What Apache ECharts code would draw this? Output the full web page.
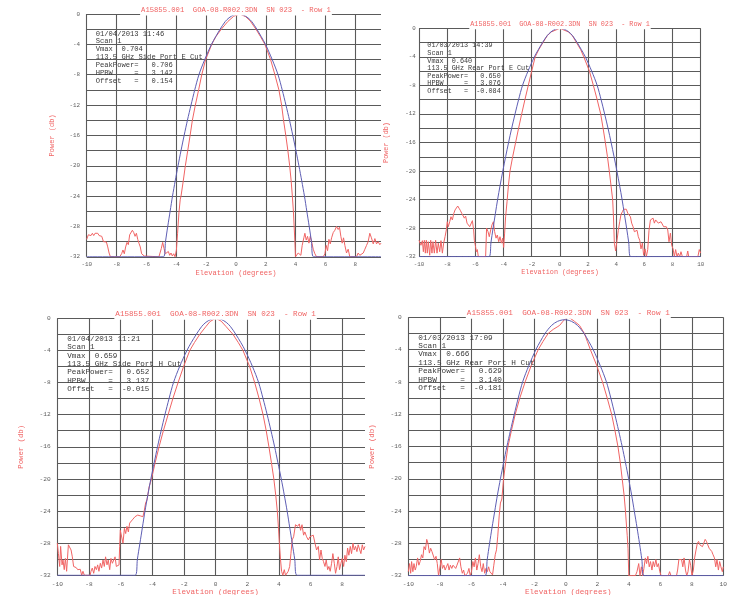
<!DOCTYPE html>
<html>
<head>
<meta charset="utf-8">
<script src="https://cdn.jsdelivr.net/npm/echarts@6/dist/echarts.min.js"></script>
<style>html,body{margin:0;padding:0;background:#fff;}#c{width:730px;height:595px;}</style>
</head>
<body>
<div id="c"></div>
<script>
// ---------- data ----------
const titleText = 'A15855.001  GOA-08-R002.3DN  SN 023  - Row 1';
const xName = 'Elevation (degrees)';
const yName = 'Power (db)';

const p1Info = ['01/04/2013 11:46','Scan 1','Vmax  0.704','113.5 GHz Side Port E Cut','PeakPower=   0.706','HPBW     =   3.142','Offset   =   0.154'];
const p2Info = ['01/03/2013 14:39','Scan 1','Vmax  0.640','113.5 GHz Rear Port E Cut','PeakPower=   0.650','HPBW     =   3.076','Offset   =  -0.084'];
const p3Info = ['01/04/2013 11:21','Scan 1','Vmax  0.659','113.5 GHz Side Port H Cut','PeakPower=   0.652','HPBW     =   3.137','Offset   =  -0.015'];
const p4Info = ['01/03/2013 17:09','Scan 1','Vmax  0.666','113.5 GHz Rear Port H Cut','PeakPower=   0.629','HPBW     =   3.140','Offset   =  -0.181'];

const p1Red = [[-10,-29.7],[-9.89,-29.1],[-9.8,-28.9],[-9.71,-29.2],[-9.62,-28.9],[-9.53,-29.2],[-9.44,-28.9],[-9.35,-29.1],[-9.26,-28.9],[-9.17,-29.2],[-9.08,-29.0],[-8.99,-29.3],[-8.88,-30.0],[-8.77,-30.1],[-8.68,-30.05],[-8.59,-30.7],[-8.5,-31.5],[-8.41,-32],
[-7.79,-32],[-7.75,-31.9],[-7.66,-31.6],[-7.57,-31.1],[-7.48,-31.6],[-7.39,-30.7],[-7.3,-30.1],[-7.21,-30.4],[-7.12,-29.1],[-7.03,-28.9],[-6.94,-28.5],[-6.85,-28.8],[-6.76,-29.3],[-6.67,-28.9],[-6.58,-29.7],[-6.5,-30.2],[-6.41,-30.7],[-6.32,-31.6],[-6.23,-31.5],[-6.14,-31.9],[-6.05,-32],[-5.16,-32],
[-5.09,-31.8],[-5.0,-30.9],[-4.91,-30.1],[-4.82,-30.9],[-4.73,-31.6],[-4.64,-31.8],[-4.53,-31.3],[-4.44,-31.8],[-4.35,-31.5],[-4.26,-31.9],[-4.17,-31.6],[-4.08,-32],[-3.99,-31.1],[-3.91,-28.9],[-3.82,-26.2],[-3.73,-24.4],
[-3.68,-24],[-3.53,-22],[-3.39,-20],[-3.23,-18],[-3.07,-16],[-2.92,-14],[-2.72,-12],[-2.5,-10],[-2.29,-8],[-2.03,-6],[-1.62,-4],[-1.35,-3],[-0.98,-2],[-0.55,-1],[-0.15,-0.3],[0.25,0],[0.65,-0.35],[0.95,-0.9],[1.34,-2],[1.65,-3],[1.94,-4],[2.32,-6],[2.61,-8],[2.88,-10],[3.06,-12],[3.19,-14],[3.34,-16],[3.48,-18],[3.6,-20],[3.7,-22],[3.78,-24],[3.85,-26],[3.9,-28],[3.95,-30],[3.99,-32],
[4.17,-31.5],[4.35,-31.8],[4.44,-30.5],[4.55,-29.5],[4.62,-28.9],[4.71,-29.8],[4.8,-29.3],[4.89,-30.2],[4.98,-29.3],[5.07,-30],[5.18,-31],[5.29,-31.6],[5.4,-32],[5.85,-32],[5.96,-31.6],[6.05,-30.5],[6.14,-31.2],[6.23,-29.7],[6.32,-30.3],[6.41,-29.5],[6.52,-28.8],[6.63,-28.5],[6.74,-28.0],[6.85,-28.4],[6.94,-28.1],[7.03,-29.3],[7.12,-30.2],[7.21,-29.5],[7.3,-30.5],[7.41,-31.5],[7.52,-31],[7.63,-32],[8.08,-32],[8.19,-31.5],[8.3,-31.8],[8.42,-32],[8.53,-31.5],[8.64,-31],[8.75,-30.5],[8.86,-30],[8.97,-28.9],[9.08,-29.5],[9.2,-30.3],[9.31,-29.6],[9.42,-30.3],[9.53,-30],[9.64,-30.4],[9.72,-30.2]];

const p1Blue = [[-10,-32],[-4.86,-32],[-4.72,-30],[-4.57,-28],[-4.41,-26],[-4.25,-24],[-4.07,-22],[-3.88,-20],[-3.68,-18],[-3.47,-16],[-3.25,-14],[-3.01,-12],[-2.76,-10],[-2.48,-8],[-2.09,-6],[-1.64,-4],[-1.36,-3],[-1.06,-2],[-0.72,-1],[-0.46,-0.5],[-0.14,-0.12],[0.17,0],[0.48,-0.12],[0.80,-0.5],[1.06,-1],[1.40,-2],[1.70,-3],[1.98,-4],[2.43,-6],[2.82,-8],[3.10,-10],[3.35,-12],[3.59,-14],[3.81,-16],[4.02,-18],[4.22,-20],[4.41,-22],[4.59,-24],[4.75,-26],[4.91,-28],[5.06,-30],[5.20,-32],[9.72,-32]];

const p2Red = [[-10,-29.7],[-9.93,-29.9],[-9.86,-30.4],[-9.76,-29.75],[-9.69,-31.3],[-9.62,-29.7],[-9.55,-31.5],[-9.48,-29.7],[-9.41,-31.5],[-9.34,-29.9],[-9.24,-31.8],[-9.17,-29.7],[-9.08,-31.5],[-9.01,-29.9],[-8.91,-31.5],[-8.82,-29.7],[-8.72,-31.5],[-8.63,-30.1],[-8.53,-31.3],[-8.44,-29.75],[-8.34,-31.5],[-8.25,-30.1],[-8.15,-29.2],[-8.06,-28.25],[-7.99,-27.1],[-7.92,-27.8],[-7.82,-27.1],[-7.73,-26.4],[-7.63,-26.85],[-7.54,-26.0],[-7.44,-25.45],[-7.35,-25.35],[-7.25,-24.9],[-7.16,-25.2],[-7.07,-25.5],[-6.97,-25.9],[-6.88,-26.0],[-6.78,-26.6],[-6.69,-26.3],[-6.59,-27.3],[-6.5,-27.1],[-6.4,-27.8],[-6.31,-27.55],[-6.21,-26.95],[-6.12,-28.25],[-6.07,-29.7],[-6.0,-30.4],[-5.93,-31.3],[-5.86,-31.0],[-5.79,-32],[-5.27,-32],
[-5.2,-28.0],[-5.1,-28.5],[-5.01,-29.2],[-4.91,-28.25],[-4.82,-27.55],[-4.72,-27.1],[-4.63,-28.5],[-4.53,-29.4],[-4.44,-28.96],[-4.34,-29.9],[-4.25,-29.2],[-4.15,-30.1],[-4.06,-29.4],[-3.99,-30.7],[-3.92,-28.7],[-3.85,-26.4],[-3.75,-24.3],
[-3.65,-22],[-3.54,-20],[-3.35,-18],[-3.14,-16],[-2.93,-14],[-2.71,-12],[-2.48,-10],[-2.24,-8],[-2.0,-6],[-1.75,-4],[-1.5,-3],[-1.2,-2],[-0.88,-1],[-0.6,-0.5],[0,0],[0.6,-0.5],[0.88,-1],[1.18,-2],[1.48,-3],[1.7,-4],[2.1,-6],[2.38,-8],[2.65,-10],[2.9,-12],[3.07,-14],[3.23,-16],[3.38,-18],[3.51,-20],[3.63,-22],[3.75,-24],[3.82,-27],[3.87,-30.1],
[3.96,-31.2],[4.06,-29.7],[4.15,-28.3],[4.25,-27.1],[4.34,-26.1],[4.44,-25.7],[4.53,-25.35],[4.63,-25.5],[4.72,-25.35],[4.82,-25.9],[4.91,-26.1],[5.01,-26.4],[5.1,-27.3],[5.2,-27.8],[5.29,-28.5],[5.38,-28.7],[5.48,-28.3],[5.57,-29.2],[5.67,-29.7],[5.76,-30.9],[5.86,-30.1],[5.95,-31.8],[6.05,-30.9],[6.14,-32],[6.24,-31.0],[6.33,-28.3],[6.43,-26.85],[6.52,-27.1],[6.62,-26.6],[6.71,-27.3],[6.8,-26.85],[6.9,-27.1],[6.99,-27.3],[7.09,-27.55],[7.18,-27.1],[7.28,-27.3],[7.37,-27.8],[7.47,-28.0],[7.56,-27.8],[7.66,-28.25],[7.75,-29.9],[7.85,-28.7],[7.94,-30.4],[8.04,-30.9],[8.13,-32],[8.22,-31.0],[8.32,-32],[8.41,-31.5],[8.51,-32],[8.6,-31.3],[8.7,-32],[9.0,-32],[9.08,-31.2],[9.15,-32],[9.8,-32],[9.9,-31.0],[10,-31.5]];

const p2Blue = [[-10,-32],[-5.03,-32],[-4.89,-30],[-4.74,-28],[-4.58,-26],[-4.42,-24],[-4.24,-22],[-4.05,-20],[-3.85,-18],[-3.64,-16],[-3.42,-14],[-3.18,-12],[-2.93,-10],[-2.65,-8],[-2.26,-6],[-1.81,-4],[-1.53,-3],[-1.23,-2],[-0.89,-1],[-0.63,-0.5],[-0.31,-0.12],[0,0],[0.31,-0.12],[0.63,-0.5],[0.89,-1],[1.23,-2],[1.53,-3],[1.81,-4],[2.26,-6],[2.65,-8],[2.93,-10],[3.18,-12],[3.42,-14],[3.64,-16],[3.85,-18],[4.05,-20],[4.24,-22],[4.42,-24],[4.58,-26],[4.74,-28],[4.89,-30],[5.03,-32],[10,-32]];

const p3Red = [[-10,-28.0],[-9.93,-29.3],[-9.85,-30.9],[-9.79,-28.4],[-9.7,-30.7],[-9.64,-30.1],[-9.56,-31.3],[-9.49,-29.9],[-9.41,-31.5],[-9.3,-28.2],[-9.22,-28.4],[-9.13,-28.85],[-9.05,-29.7],[-8.97,-30.9],[-8.88,-31.1],[-8.8,-31.05],[-8.71,-31.3],[-8.63,-31.1],[-8.55,-31.25],[-8.46,-32],[-8.38,-31.5],[-8.29,-32],[-7.93,-32],[-7.87,-31.5],[-7.79,-31.1],[-7.7,-31.75],[-7.62,-30.9],[-7.53,-31.3],[-7.45,-30.7],[-7.37,-31.5],[-7.28,-30.5],[-7.2,-31.1],[-7.11,-30.1],[-7.03,-30.9],[-6.95,-29.7],[-6.86,-30.7],[-6.78,-30.1],[-6.69,-31.3],[-6.61,-29.9],[-6.52,-30.5],[-6.44,-30.3],[-6.35,-29.7],[-6.27,-30.9],[-6.19,-30.9],[-6.1,-30.7],[-6.06,-28.4],[-6.02,-26.4],[-5.93,-26.6],[-5.85,-28.0],[-5.76,-26.15],[-5.68,-26.8],[-5.6,-25.9],[-5.51,-26.6],[-5.43,-25.5],[-5.34,-25.7],[-5.26,-25.1],[-5.18,-25.1],[-5.09,-24.7],[-5.01,-24.9],[-4.92,-24.5],[-4.84,-24.7],[-4.76,-24.6],[-4.67,-24.5],[-4.59,-24.7],[-4.5,-23.9],[-4.42,-23.0],[-4.33,-22.6],
[-4.2,-21],[-4.05,-20],[-3.82,-18],[-3.57,-16],[-3.3,-14],[-3.0,-12],[-2.7,-10],[-2.37,-8],[-2.02,-6],[-1.63,-4],[-1.33,-3],[-1.0,-2],[-0.6,-1],[-0.35,-0.4],[0.01,0],[0.35,-0.35],[0.65,-1],[1.1,-2],[1.43,-3],[1.73,-4],[2.15,-6],[2.47,-8],[2.75,-10],[3.0,-12],[3.2,-14],[3.37,-16],[3.53,-18],[3.68,-20],[3.8,-22],[3.9,-24],[3.97,-26],[4.03,-28],[4.1,-30],[4.17,-31.5],
[4.25,-32],[4.34,-31.3],[4.42,-32],[4.5,-32],[4.59,-31.5],[4.68,-30.9],[4.76,-29.3],[4.84,-27.6],[4.93,-27.2],[5.05,-25.7],[5.18,-25.9],[5.29,-25.6],[5.37,-26.4],[5.46,-25.7],[5.56,-27.0],[5.64,-26.6],[5.75,-27.2],[5.86,-27.6],[5.96,-27.2],[6.07,-27.4],[6.17,-27.0],[6.28,-28.0],[6.38,-28.85],[6.49,-28.4],[6.57,-30.1],[6.66,-28.85],[6.74,-29.9],[6.82,-30.3],[6.91,-30.9],[6.99,-30.1],[7.08,-31.3],[7.16,-30.9],[7.24,-31.5],[7.33,-30.5],[7.41,-29.3],[7.5,-30.5],[7.58,-31.75],[7.67,-30.9],[7.75,-29.7],[7.83,-31.3],[7.92,-30.5],[8.0,-29.9],[8.09,-30.9],[8.17,-29.5],[8.26,-30.3],[8.34,-28.6],[8.42,-29.5],[8.51,-28.4],[8.59,-29.3],[8.68,-28.0],[8.76,-28.85],[8.84,-28.4],[8.93,-29.05],[9.01,-28.2],[9.1,-28.4],[9.18,-29.3],[9.27,-28.2],[9.35,-28.85],[9.44,-28.4]];

const p3Blue = [[-10,-32],[-5.08,-32],[-4.94,-30],[-4.78,-28],[-4.62,-26],[-4.46,-24],[-4.28,-22],[-4.09,-20],[-3.88,-18],[-3.67,-16],[-3.44,-14],[-3.20,-12],[-2.94,-10],[-2.66,-8],[-2.27,-6],[-1.81,-4],[-1.53,-3],[-1.22,-2],[-0.87,-1],[-0.61,-0.5],[-0.28,-0.12],[0.03,0],[0.34,-0.12],[0.67,-0.5],[0.93,-1],[1.28,-2],[1.59,-3],[1.87,-4],[2.33,-6],[2.72,-8],[3.00,-10],[3.26,-12],[3.50,-14],[3.73,-16],[3.94,-18],[4.15,-20],[4.34,-22],[4.52,-24],[4.68,-26],[4.84,-28],[5.00,-30],[5.14,-32],[9.44,-32]];

const p4Red = [[-10,-31.5],[-9.92,-30.5],[-9.85,-31.7],[-9.79,-30.25],[-9.71,-31.5],[-9.64,-30.5],[-9.56,-31.3],[-9.5,-30.9],[-9.41,-29.8],[-9.33,-30.7],[-9.25,-30.25],[-9.16,-29.4],[-9.08,-29.8],[-9.0,-28.4],[-8.91,-28.8],[-8.83,-27.5],[-8.75,-28.0],[-8.66,-29.2],[-8.58,-28.6],[-8.5,-29.0],[-8.41,-28.8],[-8.33,-30.0],[-8.24,-29.6],[-8.16,-30.5],[-8.08,-32],[-7.99,-31.9],[-7.91,-30.0],[-7.83,-31.1],[-7.74,-30.7],[-7.66,-31.3],[-7.58,-30.9],[-7.49,-30.5],[-7.41,-31.3],[-7.33,-30.7],[-7.24,-31.1],[-7.16,-30.7],[-7.07,-30.9],[-6.99,-31.1],[-6.91,-30.7],[-6.82,-30.9],[-6.74,-29.8],[-6.66,-30.9],[-6.57,-31.7],[-6.49,-31.3],[-6.41,-32],[-6.32,-32],[-6.24,-31.7],[-6.15,-31.1],[-6.07,-32],[-5.99,-31.5],[-5.9,-30.25],[-5.82,-30.9],[-5.74,-29.8],[-5.65,-31.3],[-5.57,-30.5],[-5.49,-29.4],[-5.4,-30.9],[-5.32,-31.5],[-5.24,-30.5],[-5.15,-31.7],[-5.07,-31.1],[-4.98,-31.5],[-4.9,-30.9],[-4.82,-31.5],[-4.73,-31.3],[-4.65,-31.9],[-4.57,-30.7],[-4.48,-29.4],[-4.4,-28.8],[-4.32,-27.1],[-4.23,-24.6],[-4.15,-23.0],[-4.06,-22.5],
[-3.95,-20],[-3.82,-18],[-3.67,-16],[-3.45,-14],[-3.21,-12],[-2.92,-10],[-2.58,-8],[-2.2,-6],[-1.75,-4],[-1.45,-3],[-1.12,-2],[-0.8,-1.5],[-0.55,-1.2],[-0.39,-1],[-0.18,-0.5],[0.0,-0.15],[0.14,0],[0.3,-0.15],[0.55,-0.5],[0.87,-1],[1.18,-2],[1.37,-3],[1.56,-4],[1.97,-6],[2.33,-8],[2.63,-10],[2.91,-12],[3.12,-14],[3.31,-16],[3.46,-18],[3.58,-20],[3.7,-22],[3.79,-24],[3.86,-26],[3.9,-27],[3.95,-28.6],[4.0,-32],
[4.21,-32],[4.42,-32],[4.52,-31.5],[4.63,-30.5],[4.71,-32],[4.8,-30.9],[4.88,-32],[4.96,-31.1],[5.05,-29.8],[5.13,-30.5],[5.21,-29.6],[5.3,-30.9],[5.38,-30.25],[5.47,-31.3],[5.55,-30.25],[5.63,-30.9],[5.72,-30.0],[5.8,-30.9],[5.88,-30.5],[5.97,-31.5],[6.05,-32],[6.51,-32],[6.59,-31.5],[6.68,-32],[7.03,-32],[7.1,-31.3],[7.18,-30.0],[7.26,-29.8],[7.35,-30.0],[7.43,-30.9],[7.51,-29.8],[7.6,-31.3],[7.68,-32],[7.76,-31.5],[7.85,-30.0],[7.93,-30.7],[8.01,-32],[8.1,-31.3],[8.18,-29.8],[8.27,-28.8],[8.35,-28.0],[8.43,-27.75],[8.52,-28.2],[8.6,-27.96],[8.68,-28.4],[8.77,-28.2],[8.85,-27.5],[8.93,-27.75],[9.02,-27.96],[9.1,-28.6],[9.19,-28.8],[9.27,-29.0],[9.35,-29.4],[9.44,-29.8],[9.52,-30.9],[9.6,-30.0],[9.69,-31.3],[9.77,-30.25],[9.85,-30.9],[9.94,-31.5],[10,-30.9]];

const p4Blue = [[-10,-32],[-5.13,-32],[-4.99,-30],[-4.84,-28],[-4.68,-26],[-4.51,-24],[-4.34,-22],[-4.15,-20],[-3.95,-18],[-3.74,-16],[-3.51,-14],[-3.27,-12],[-3.02,-10],[-2.74,-8],[-2.35,-6],[-1.90,-4],[-1.62,-3],[-1.32,-2],[-0.90,-1],[-0.52,-0.5],[-0.08,-0.3],[0.36,-0.5],[0.74,-1],[1.16,-2],[1.46,-3],[1.74,-4],[2.19,-6],[2.58,-8],[2.86,-10],[3.11,-12],[3.35,-14],[3.58,-16],[3.79,-18],[3.99,-20],[4.18,-22],[4.35,-24],[4.52,-26],[4.68,-28],[4.83,-30],[4.97,-32],[10,-32]];

// ---------- layout ----------
const RED = '#f06464', BLUE = '#5e5eb4', GRIDC = '#5a5a5a', TXT = '#3a3a3a', TICK = '#5e5e5e';
const MONO = '"Liberation Mono", "DejaVu Sans Mono", monospace';

const panels = [
  {grid:{left:86.7, top:14, width:294.3, height:242.8}, xmax:9.72, showMax:false,
   red:p1Red, blue:p1Blue, info:p1Info,
   title:[236,10.3,7.2], box:[95.7,29.8,7.15,7.83], yname:[52.3,135.4,7.0], xname:[236,272.7,7.1],
   tick:5.9, xm:4.5, ym:6.7},
  {grid:{left:419, top:28.3, width:281.7, height:228.4}, xmax:10, showMax:true,
   red:p2Red, blue:p2Blue, info:p2Info,
   title:[560,24,6.8], box:[427.3,41.9,6.8,7.55], yname:[386,142.5,6.8], xname:[560,271.7,6.8],
   tick:5.8, xm:4.4, ym:3.2},
  {grid:{left:57.3, top:318.3, width:307.7, height:257}, xmax:9.44, showMax:false,
   red:p3Red, blue:p3Blue, info:p3Info,
   title:[215.6,314,7.6], box:[67.3,334.85,7.6,8.3], yname:[20.7,446.8,7.3], xname:[215.6,592,7.6],
   tick:6.2, xm:5.6, ym:6.6},
  {grid:{left:408.3, top:317.3, width:319.4, height:258.4}, xmax:10, showMax:true,
   red:p4Red, blue:p4Blue, info:p4Info,
   title:[568.3,313,7.7], box:[418.3,333.5,7.75,8.38], yname:[372,446.5,7.4], xname:[568.3,592.3,7.6],
   tick:6.2, xm:6.0, ym:6.6}
];

const grids = [], xAxes = [], yAxes = [], series = [], graphics = [];
panels.forEach((p, i) => {
  grids.push(Object.assign({containLabel:false}, p.grid));
  xAxes.push({
    type:'value', gridIndex:i, min:-10, max:p.xmax, interval:2,
    axisLine:{show:false}, axisTick:{show:false},
    splitLine:{show:true, showMaxLine:p.showMax, lineStyle:{color:GRIDC, width:1.1}},
    axisLabel:{color:TICK, fontSize:p.tick, fontFamily:MONO, margin:p.xm,
      formatter:v => (Math.abs(v - Math.round(v)) < 1e-6 ? String(Math.round(v)) : '')}
  });
  yAxes.push({
    type:'value', gridIndex:i, min:-32, max:0, interval:2,
    axisLine:{show:false}, axisTick:{show:false},
    splitLine:{show:true, lineStyle:{color:GRIDC, width:1.1}},
    axisLabel:{color:TICK, fontSize:p.tick, fontFamily:MONO, margin:p.ym,
      formatter:v => (Math.round(v) % 4 === 0 ? String(Math.round(v)) : '')}
  });
  series.push({type:'line', xAxisIndex:i, yAxisIndex:i, data:p.red, showSymbol:false,
    lineStyle:{color:RED, width:1}, z:3, animation:false, clip:true});
  series.push({type:'line', xAxisIndex:i, yAxisIndex:i, data:p.blue, showSymbol:false, smooth:0.3,
    lineStyle:{color:BLUE, width:1}, z:4, animation:false, clip:true});

  graphics.push({type:'text', x:p.title[0], y:p.title[1], z:20,
    style:{text:titleText, fill:RED, font:p.title[2] + 'px ' + MONO,
      align:'center', verticalAlign:'middle', textAlign:'center', textVerticalAlign:'middle',
      backgroundColor:'#fff', padding:[1.5,1,1.8,1]}});
  graphics.push({type:'text', x:p.box[0], y:p.box[1], z:20,
    style:{text:p.info.join('\n'), fill:TXT, font:p.box[2] + 'px ' + MONO, lineHeight:p.box[3],
      align:'left', verticalAlign:'top', textAlign:'left', textVerticalAlign:'top'}});
  graphics.push({type:'text', x:p.yname[0], y:p.yname[1], rotation:Math.PI/2, z:20,
    style:{text:yName, fill:RED, font:p.yname[2] + 'px ' + MONO,
      align:'center', verticalAlign:'middle', textAlign:'center', textVerticalAlign:'middle'}});
  graphics.push({type:'text', x:p.xname[0], y:p.xname[1], z:20,
    style:{text:xName, fill:RED, font:p.xname[2] + 'px ' + MONO,
      align:'center', verticalAlign:'middle', textAlign:'center', textVerticalAlign:'middle'}});
});

const chart = echarts.init(document.getElementById('c'), null, {renderer:'canvas'});
chart.setOption({
  backgroundColor:'#fff',
  animation:false,
  grid:grids, xAxis:xAxes, yAxis:yAxes, series:series,
  graphic:{elements:graphics}
});
</script>
</body>
</html>
